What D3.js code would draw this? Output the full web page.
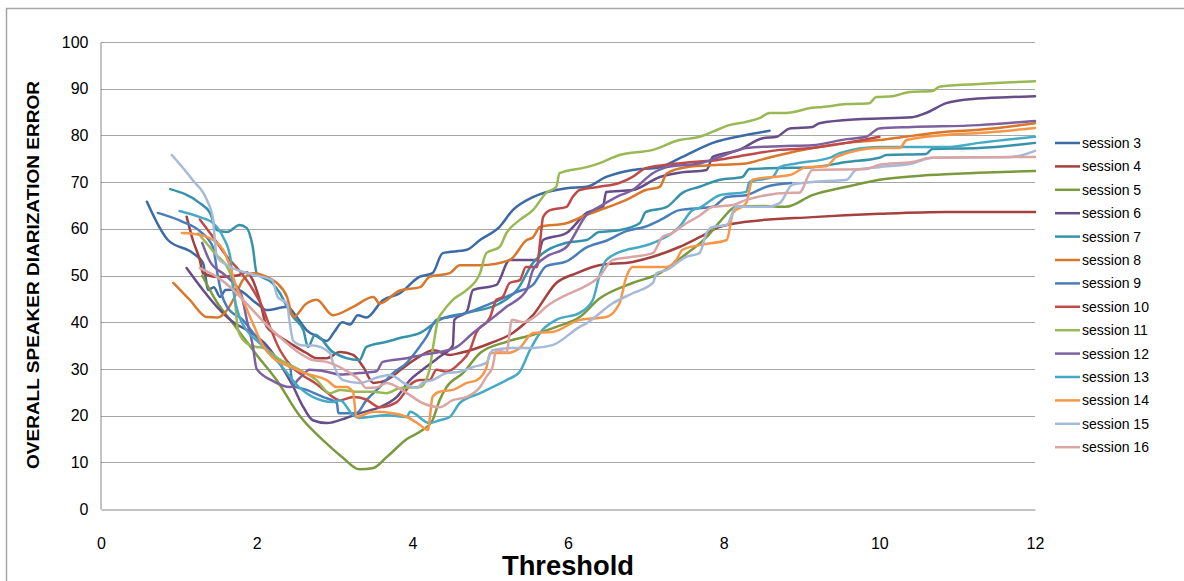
<!DOCTYPE html>
<html>
<head>
<meta charset="utf-8">
<script src="https://cdn.jsdelivr.net/npm/d3@7"></script>
<style>
  body { margin: 0; background: #fff; }
  text { font-family: "Liberation Sans", Arial, sans-serif; }
</style>
</head>
<body>
<script>
var w = 1184;
var h = 581;
var margin = {top: 42, right: 149, bottom: 72, left: 101};

var sessions = ["session 3", "session 4", "session 5", "session 6", "session 7",
  "session 8", "session 9", "session 10", "session 11", "session 12",
  "session 13", "session 14", "session 15", "session 16"];

var xTicks = [0, 2, 4, 6, 8, 10, 12];
var yTicks = [0, 10, 20, 30, 40, 50, 60, 70, 80, 90, 100];

// values: [threshold, error]
var s3 = [[0.59,65.8],[0.86,57.6],[1.18,54.8],[1.31,52.7],[1.38,46.9],[1.45,47.5],[1.53,45.4],
  [1.6,46.9],[1.74,47],[2.0,44],[2.13,42.6],[2.39,43.3],[2.52,41],[2.64,38.3],[2.77,37],[2.9,36],
  [3.0,38],[3.1,40],[3.2,39.5],[3.3,41.5],[3.41,41],[3.62,44.7],[3.84,46.2],[4.09,49.7],[4.26,50.5],
  [4.39,54.8],[4.7,55.5],[4.87,57.6],[5.12,60.4],[5.29,64],[5.55,66.8],[5.98,68.7],[6.24,69],
  [6.49,71.1],[6.83,72.6],[7.18,73.2],[7.47,75.4],[7.86,78.4],[8.29,80.1],[8.59,81]];
var s4 = [[1.1,62.6],[1.18,57.6],[1.27,53.3],[1.31,50.5],[1.5,49.7],[1.75,50],[1.87,50.7],[1.95,49],
  [2.04,44.7],[2.13,39],[2.26,37.3],[2.43,35.5],[2.64,33.4],[2.77,32.3],[2.9,32.3],[3.07,33.6],
  [3.24,33],[3.37,30.4],[3.5,27],[3.67,27.6],[3.88,30.2],[4.06,32.3],[4.27,34],[4.48,33],[4.61,33.4],
  [5.0,35.5],[5.29,37.7],[5.55,41.5],[5.85,48.4],[6.11,50.5],[6.4,52.2],[6.83,52.9],[7.09,54],
  [7.43,56.1],[7.69,58.2],[7.95,60.4],[8.29,61.5],[9.14,62.5],[10,63.2],[10.86,63.6],[12,63.6]];
var s5 = [[1.3,50],[1.5,44],[1.66,40.5],[2.0,33],[2.26,27.5],[2.55,20],[2.9,14],[3.1,11.1],
  [3.32,8.5],[3.5,8.8],[3.67,11.1],[3.93,15],[4.13,16.9],[4.26,19],[4.35,23.3],[4.44,26.1],
  [4.65,29.1],[4.87,33.4],[5.21,35.8],[5.55,37.3],[5.85,39],[6.15,41.1],[6.4,45],[6.83,48.4],
  [7.18,50.5],[7.47,54],[7.78,58.2],[7.95,61.5],[8.16,64.7],[8.5,64.9],[8.8,64.7],[9.14,67.2],
  [9.58,69],[10,70.5],[10.64,71.5],[11.28,72],[12,72.4]];
var s6 = [[1.1,51.6],[1.31,46.9],[1.49,43.3],[1.7,40],[1.91,38],[2.13,35],[2.34,30],[2.46,26.5],
  [2.6,21.8],[2.72,19],[2.9,18.4],[3.15,19.5],[3.32,20.5],[3.58,21.8],[3.8,24],[3.97,27.6],
  [4.13,29.8],[4.35,32.6],[4.52,35],[4.54,40.5],[4.7,42.3],[4.78,46.9],[5.08,48],[5.25,53.3],
  [5.6,53.3],[5.68,57.6],[5.98,59.1],[6.24,63.4],[6.45,64.7],[6.49,67.9],[6.83,68.3],[7.18,71.1],
  [7.43,72],[7.78,72.6],[7.86,75.4],[8.2,76.9],[8.5,79.4],[8.68,79.7],[8.85,81.5],[9.14,81.8],
  [9.23,82.6],[9.78,83.5],[10.42,83.9],[10.6,84.8],[10.86,86.9],[11.2,87.8],[11.7,88.2],[12,88.4]];
var s7 = [[0.89,68.5],[1.27,65.5],[1.4,63.4],[1.49,59.7],[1.62,59.3],[1.78,60.8],[1.87,60.2],
  [1.95,56.1],[2.0,50.5],[2.2,48.4],[2.3,46.2],[2.39,43.3],[2.47,41.1],[2.6,38.3],[2.66,34.7],
  [2.75,37.3],[2.98,33.6],[3.32,31.9],[3.41,34.7],[3.67,35.8],[3.84,36.6],[4.1,37.7],[4.35,40.5],
  [4.7,42],[5.12,44],[5.35,47],[5.55,52.7],[5.68,54.8],[5.98,57],[6.24,57.6],[6.4,59.3],[6.66,59.7],
  [6.92,61.2],[7.0,63.6],[7.27,64.7],[7.47,67.7],[7.69,69],[7.95,70.5],[8.24,71.1],[8.33,72.8],
  [8.72,73],[9.14,73.2],[9.58,74.3],[10,75.2],[10.09,75.8],[10.6,76],[10.68,77.1],[11.28,77.3],[12,78.4]];
var s8 = [[0.93,48.4],[1.14,44.8],[1.36,41.1],[1.5,41],[1.62,42.6],[1.74,46.2],[1.82,49],[1.95,50.5],
  [2.13,49.7],[2.26,48.4],[2.39,45.4],[2.47,41.1],[2.64,44],[2.77,44.8],[2.98,41.5],[3.24,43.3],
  [3.5,45.4],[3.58,44],[3.84,46.8],[4.1,47.5],[4.22,49.7],[4.48,50.5],[4.61,52.2],[4.87,52.2],
  [5.25,53.3],[5.47,57.6],[5.55,58.2],[5.64,60.4],[5.98,61.2],[6.24,63],[6.49,64.5],[6.75,66.2],
  [7.0,68.3],[7.18,69],[7.27,71.9],[7.52,73.2],[7.95,73.7],[8.29,74],[8.46,74.7],[8.72,75.8],
  [9.14,77.3],[9.58,78.4],[10,79],[10.42,79.9],[10.86,80.8],[11.28,81.2],[12,82.6]];
var s9 = [[0.73,63.4],[1.05,61.5],[1.27,59.5],[1.44,56],[1.5,50],[1.55,46],[1.62,43.3],[1.82,40.5],
  [2.0,36.8],[2.26,31.9],[2.43,30.4],[2.46,26.5],[2.64,25.5],[2.85,24],[3.03,22.7],[3.05,20.5],
  [3.28,20.5],[3.41,23.3],[3.58,26.1],[3.75,29.1],[3.93,31.3],[4.06,34],[4.18,36.8],[4.31,40.5],
  [4.48,41.1],[4.7,42],[4.9,43.3],[5.12,44.8],[5.35,46.5],[5.55,48],[5.72,52],[5.98,53],[6.24,56],
  [6.5,57.5],[6.75,59.5],[7.0,60.5],[7.2,62],[7.43,64],[7.86,64.7],[8.04,66.8],[8.29,67.2],
  [8.55,69],[8.87,69.8]];
var s10 = [[1.27,62],[1.45,58],[1.62,54],[1.78,51],[1.95,47],[2.08,43],[2.17,39],[2.3,34],
  [2.45,30.5],[2.6,28.5],[2.75,27],[2.9,25],[3.07,23.3],[3.24,24],[3.4,23.5],[3.58,21.8],[3.8,22.9],
  [4.0,27],[4.09,27.6],[4.22,27.6],[4.31,29.8],[4.44,29.4],[4.61,31.3],[4.74,34],[4.82,37.7],
  [5.0,41.1],[5.08,44.8],[5.16,45.4],[5.25,48.4],[5.38,49],[5.46,51.8],[5.6,51.8],[5.64,57],
  [5.68,62.5],[5.77,64],[5.98,64.7],[6.06,66.8],[6.15,68.3],[6.4,69],[6.66,69.8],[6.83,71.1],
  [7.0,73],[7.27,73.7],[7.6,74.3],[7.91,74.7],[8.29,75.8],[8.72,76.9],[9.14,77.3],[9.58,78.4],[10,79.7]];
var s11 = [[1.25,59],[1.45,55],[1.66,50.5],[1.72,44.8],[1.76,38.3],[1.87,35.5],[2.0,34.7],
  [2.08,34.5],[2.3,32],[2.55,29.8],[2.77,27.6],[2.94,24.8],[3.07,25.5],[3.28,25.1],[3.5,25.1],
  [3.67,24.8],[3.84,25.9],[4.1,26.1],[4.22,29.8],[4.26,34],[4.33,40.5],[4.39,42.2],[4.52,44.8],
  [4.7,46.9],[4.87,50.5],[4.95,54.8],[5.12,56.1],[5.21,59.1],[5.38,61.9],[5.55,64],[5.72,67.7],
  [5.85,69],[5.89,71.9],[6.24,73.2],[6.4,74],[6.66,75.8],[7.09,76.9],[7.43,79],[7.69,79.7],
  [7.86,80.8],[8.07,82.2],[8.29,82.9],[8.46,83.7],[8.59,84.8],[8.8,84.8],[9.14,85.9],[9.27,86.1],
  [9.58,86.7],[9.87,86.9],[9.96,88.2],[10.17,88.4],[10.39,89.3],[10.68,89.5],[10.77,90.4],
  [11.28,91],[12,91.6]];
var s12 = [[1.3,57],[1.4,53],[1.6,50],[1.8,46],[1.88,40],[1.95,35],[2.0,30],[2.2,27.5],[2.43,26.1],
  [2.55,28],[2.68,29.8],[2.9,29.4],[3.07,28.8],[3.32,29.1],[3.54,29.5],[3.62,31.5],[3.93,32.3],
  [4.13,33],[4.35,33.6],[4.57,34.7],[4.78,37.7],[5.0,40.5],[5.21,43.3],[5.47,46.9],[5.55,51.2],
  [5.72,54],[5.98,56.1],[6.24,63],[6.4,64.7],[6.62,66.8],[6.83,68.3],[7.09,71.9],[7.27,73.2],
  [7.69,74],[7.95,75.4],[8.29,77.3],[8.72,77.7],[9.14,77.9],[9.58,79.2],[9.83,79.7],[10,81.5],
  [10.42,81.8],[11.28,82.2],[12,83.1]];
var s13 = [[1.01,63.8],[1.27,62.5],[1.44,61.2],[1.57,58.2],[1.66,54],[1.7,47],[1.78,41.1],
  [1.87,38.3],[2.04,35.5],[2.3,31],[2.55,26],[2.72,24],[2.98,22.9],[3.07,23.3],[3.24,20.1],
  [3.32,19.5],[3.67,20.1],[3.93,19.7],[3.97,20.8],[4.22,18.4],[4.35,19],[4.48,19.7],[4.61,22.7],
  [4.87,24.8],[5.03,26.1],[5.21,27.6],[5.38,29.4],[5.51,34],[5.64,37.7],[5.85,40.5],[6.15,42],
  [6.32,44.8],[6.4,49.7],[6.49,53.3],[6.75,55.5],[6.92,56.1],[7.18,57.6],[7.34,59.1],[7.43,60.4],
  [7.6,64],[7.69,64.5],[7.95,67.2],[8.29,67.9],[8.33,70],[8.63,71.1],[8.72,73.2],[8.93,74],
  [9.36,75.2],[9.49,76.2],[10,77.5],[10.86,77.5],[11.28,78.4],[12,79.7]];
var s14 = [[1.04,59.1],[1.27,58.7],[1.44,57.6],[1.57,55.5],[1.66,51.8],[1.74,47.5],[1.82,44.8],
  [1.95,39.8],[2.08,35],[2.2,32.5],[2.43,30.5],[2.64,29],[2.9,27.6],[3.03,26.1],[3.15,26.1],
  [3.24,25],[3.28,19.7],[3.5,20.8],[3.75,20.5],[3.93,19.7],[4.1,18],[4.2,16.9],[4.26,24],
  [4.35,25.1],[4.52,25.5],[4.7,27],[4.83,27.6],[4.95,30.2],[5.0,33.4],[5.21,33.4],[5.38,34.5],
  [5.55,37.7],[5.8,37.9],[6.15,40.5],[6.49,41.1],[6.66,44],[6.75,49.7],[6.83,51.8],[7.27,51.8],
  [7.39,53.3],[7.47,55.5],[7.69,56.5],[8.04,57.6],[8.12,63.4],[8.29,65.5],[8.37,70.5],[8.63,71.1],
  [8.85,71.5],[9.06,73.2],[9.32,73.4],[9.45,75.4],[10,77.3],[10.26,77.3],[10.35,79],[10.86,80.1],
  [11.28,80.5],[12,81.6]];
var s15 = [[0.91,75.8],[1.18,70.4],[1.36,66.2],[1.44,62],[1.46,58],[1.49,54],[1.62,52.2],
  [1.82,50.8],[2.0,50],[2.2,49],[2.27,45.4],[2.39,44],[2.42,40.5],[2.47,36],[2.6,35],[2.72,35],
  [2.94,33.4],[2.98,31.3],[3.11,27.6],[3.32,27],[3.58,28.3],[3.71,28.7],[3.93,26.6],[4.06,25.9],
  [4.13,27],[4.26,27.6],[4.44,29.1],[4.61,29.4],[4.78,30.4],[4.95,31.3],[5.03,34],[5.29,34.5],
  [5.55,34.5],[5.8,35.1],[6.15,39],[6.24,39.8],[6.57,44],[6.83,46.2],[7.09,48.4],[7.14,50.5],
  [7.27,51.2],[7.52,54],[7.69,54.8],[7.78,59.1],[7.86,60.4],[8.04,60.8],[8.16,64.7],[8.55,64.7],
  [8.72,65.5],[8.88,69.4],[9.14,70],[9.58,70.5],[9.7,72.6],[10,73.2],[10.42,74],[10.68,75.2],
  [11.7,75.4],[12,76.7]];
var s16 = [[1.27,51.6],[1.49,49.7],[1.7,46.9],[1.91,43.3],[2.13,39.4],[2.34,36.2],[2.55,33.4],
  [2.72,31.9],[2.9,31.5],[3.11,30],[3.32,27.6],[3.41,25.9],[3.54,26],[3.67,27],[3.93,24.8],
  [4.13,22.7],[4.35,21.8],[4.52,23.3],[4.7,24],[4.87,26.1],[4.95,28.3],[5.03,30.4],[5.08,34],
  [5.21,33.6],[5.28,40.5],[5.42,40],[5.6,41.5],[5.72,43.3],[6.0,46],[6.2,47.5],[6.4,49.7],
  [6.57,53.3],[6.83,54],[7.09,54.8],[7.21,58.2],[7.34,59.1],[7.52,61.2],[7.69,62.8],[7.86,64.7],
  [8.12,65.1],[8.29,66.2],[8.88,67.7],[8.97,67.7],[9.14,72.6],[9.83,72.8],[10,73.7],[10.42,74.3],
  [10.68,75.2],[12,75.4]];

var seriesValues = [s3, s4, s5, s6, s7, s8, s9, s10, s11, s12, s13, s14, s15, s16];

var colors = ["#3C6AA4", "#A4403D", "#7B9A3E", "#664D87", "#3592A8", "#D9772A", "#4A7EBB",
  "#BE4B48", "#98B954", "#7D60A0", "#46AAC5", "#F79646", "#A5B9D9", "#D9A5A5"];

var xRange = d3.scaleLinear().domain([0, 12]).range([margin.left, w - margin.right]);
var yRange = d3.scaleLinear().domain([0, 100]).range([h - margin.bottom, margin.top]);

var svg = d3.select("body")
      .append("svg")
      .attr("width", w)
      .attr("height", h);

// chart frame (only top and left edges fall inside the picture)
svg.append("rect")
   .attr("x", 6.5).attr("y", 8.5)
   .attr("width", w).attr("height", h)
   .attr("fill", "none")
   .attr("stroke", "#A6A6A6")
   .attr("stroke-width", 1.5);

// gridlines
svg.append("g")
   .selectAll("line")
   .data(yTicks.slice(1))
   .enter()
   .append("line")
   .attr("x1", xRange(0)).attr("x2", xRange(12))
   .attr("y1", function(d) { return Math.round(yRange(d)) + 0.5; })
   .attr("y2", function(d) { return Math.round(yRange(d)) + 0.5; })
   .attr("stroke", "#A6A6A6");

var yAxis = d3.axisLeft(yRange).tickValues(yTicks).tickSize(0).tickPadding(12);
var xAxis = d3.axisBottom(xRange).tickValues(xTicks).tickSize(0).tickPadding(28);

svg.append("g")
   .attr("transform", "translate(" + (xRange(0) - 0.5) + ",0)")
   .call(yAxis)
   .call(function(g) {
     g.select(".domain").attr("stroke", "#868686");
     g.selectAll("text").attr("font-size", "16px").attr("fill", "#000")
      .attr("font-family", "'Liberation Sans', Arial, sans-serif");
   });

svg.append("g")
   .attr("transform", "translate(0," + (Math.round(yRange(0)) + 0.5) + ")")
   .call(xAxis)
   .call(function(g) {
     g.select(".domain").attr("stroke", "#868686");
     g.selectAll("text").attr("font-size", "16px").attr("fill", "#000")
      .attr("font-family", "'Liberation Sans', Arial, sans-serif");
   });

var line = d3.line()
   .x(function(d) { return xRange(d[0]); })
   .y(function(d) { return yRange(d[1]); })
   .curve(d3.curveMonotoneX);

svg.append("g")
   .selectAll("path")
   .data(seriesValues)
   .enter()
   .append("path")
   .attr("d", line)
   .attr("fill", "none")
   .attr("stroke", function(d, i) { return colors[i]; })
   .attr("stroke-width", 2.5)
   .attr("stroke-linejoin", "round")
   .attr("stroke-linecap", "round");

// legend
var legend = svg.append("g")
   .selectAll("g")
   .data(sessions)
   .enter()
   .append("g")
   .attr("transform", function(d, i) { return "translate(1055," + (143 + i * 23.4) + ")"; });

legend.append("line")
   .attr("x1", 0).attr("x2", 25)
   .attr("stroke", function(d, i) { return colors[i]; })
   .attr("stroke-width", 2.5);

legend.append("text")
   .attr("x", 27)
   .attr("dy", "0.35em")
   .attr("font-size", "14px")
   .text(function(d) { return d; });

// axis titles
svg.append("text")
   .attr("transform", "translate(39,275) rotate(-90)")
   .attr("text-anchor", "middle")
   .attr("font-weight", "bold")
   .attr("font-size", "17px")
   .attr("textLength", 388)
   .attr("lengthAdjust", "spacingAndGlyphs")
   .text("OVERALL SPEAKER DIARIZATION ERROR");

svg.append("text")
   .attr("x", 568)
   .attr("y", 575)
   .attr("text-anchor", "middle")
   .attr("font-weight", "bold")
   .attr("font-size", "27px")
   .attr("textLength", 132)
   .attr("lengthAdjust", "spacingAndGlyphs")
   .text("Threshold");
</script>
</body>
</html>
